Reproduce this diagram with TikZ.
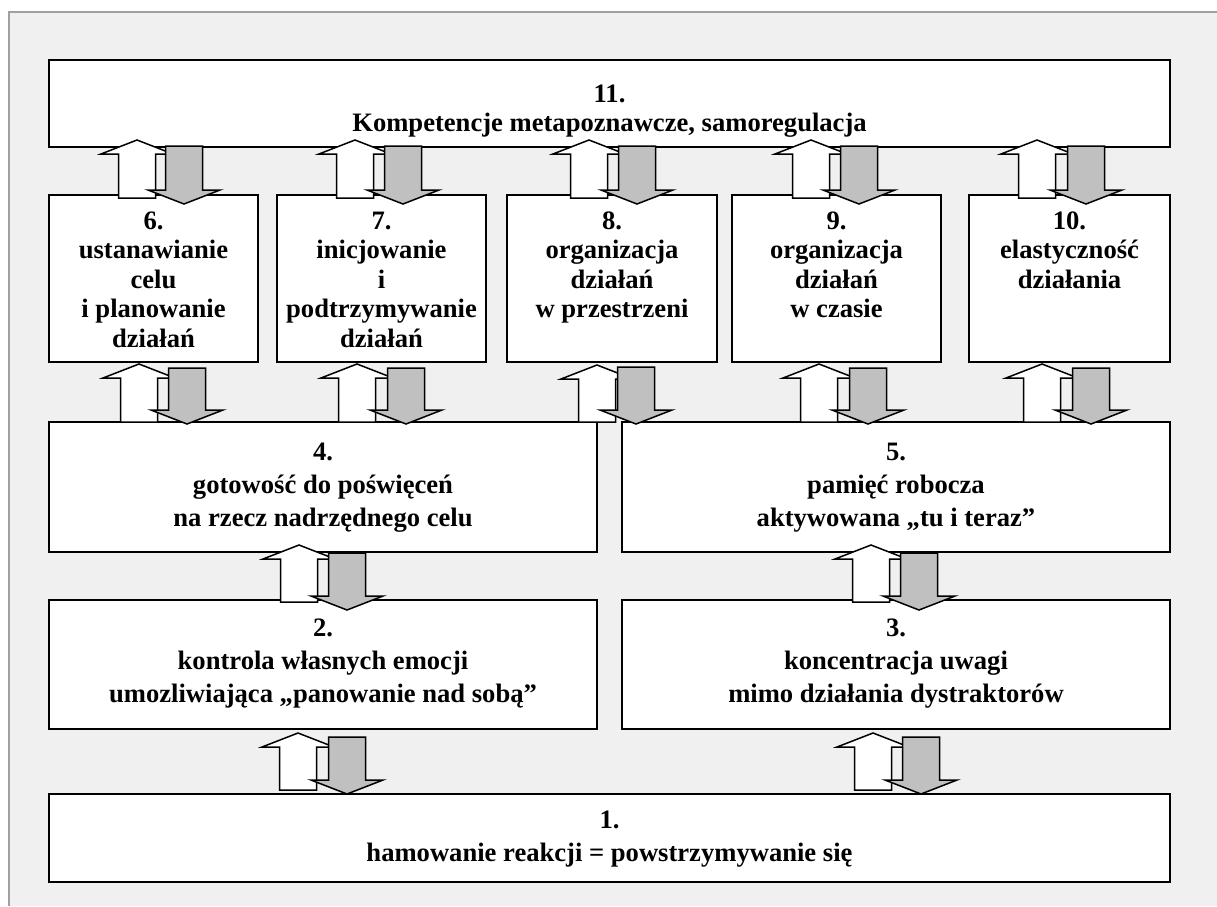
\documentclass[tikz,border=0pt]{standalone}
\usepackage{fontspec}
\setmainfont{Liberation Serif}
\definecolor{bgcol}{HTML}{F0F0F0}
\definecolor{framecol}{HTML}{A0A0A0}
\definecolor{arrgray}{HTML}{C0C0C0}
\newcommand{\bx}[5]{\node[box,minimum width={#4-#2},minimum height={#5-#3}] (#1) at ({(#2+#4)/2},{(#3+#5)/2}) {};}
\newcommand{\uparr}[3]{\draw[uparrowstyle] (#1,#2) -- (#1+36,#2+14) -- (#1+18.5,#2+14) -- (#1+18.5,#3) -- (#1-18.5,#3) -- (#1-18.5,#2+14) -- (#1-36,#2+14) -- cycle;}
\newcommand{\dnarr}[3]{\draw[dnarrowstyle] (#1-18.5,#2) -- (#1+18.5,#2) -- (#1+18.5,#3-14) -- (#1+36,#3-14) -- (#1,#3) -- (#1-36,#3-14) -- (#1-18.5,#3-14) -- cycle;}
\newcommand{\arrpair}[6]{\uparr{#1}{#3}{#4}\dnarr{#2}{#5}{#6}}

\begin{document}
\begin{tikzpicture}[x=1pt,y=-1pt,
  box/.style={draw=black,line width=1.8pt,fill=white,inner sep=0pt,outer sep=0pt},
  uparrowstyle/.style={draw=black,line width=1.5pt,fill=white,line join=miter},
  dnarrowstyle/.style={draw=black,line width=1.5pt,fill=arrgray,line join=miter},
  txtA/.style={anchor=north,inner sep=0pt,align=center,font=\fontsize{26.6}{29.5}\selectfont\bfseries},
  txtB/.style={anchor=north,inner sep=0pt,align=center,font=\fontsize{26.6}{33}\selectfont\bfseries}]
\useasboundingbox (0,0) rectangle (1217,906);
\fill[white] (0,0) rectangle (1217,906);
\fill[bgcol] (9,12) rectangle (1217,906);
\draw[framecol,line width=1.5pt] (9,906) -- (9,12) -- (1217,12);
% boxes
\bx{b11}{49}{60}{1170}{147}
\bx{b6}{49}{195}{258}{362}
\bx{b7}{277}{195}{486}{362}
\bx{b8}{507}{195}{717}{362}
\bx{b9}{732}{195}{941}{362}
\bx{b10}{969}{195}{1170}{362}
\bx{b4}{49}{422}{597}{552}
\bx{b5}{622}{422}{1170}{552}
\bx{b2}{49}{600}{597}{729}
\bx{b3}{622}{600}{1170}{729}
\bx{b1}{49}{794}{1170}{882}
% texts
\node[txtA] (t11) at (609.5,81.3) {\strut 11.\\\strut Kompetencje metapoznawcze, samoregulacja};
\node[txtA] (t6) at (153.5,208.3) {\strut 6.\\\strut ustanawianie\\\strut celu\\\strut i planowanie\\\strut działań};
\node[txtA] (t7) at (381.5,208.3) {\strut 7.\\\strut inicjowanie\\\strut i\\\strut podtrzymywanie\\\strut działań};
\node[txtA] (t8) at (612,208.3) {\strut 8.\\\strut organizacja\\\strut działań\\\strut w przestrzeni};
\node[txtA] (t9) at (836.5,208.3) {\strut 9.\\\strut organizacja\\\strut działań\\\strut w czasie};
\node[txtA] (t10) at (1069.5,208.3) {\strut 10.\\\strut elastyczność\\\strut działania};
\node[txtB] (t4) at (323,437.4) {\strut 4.\\\strut gotowość do poświęceń\\\strut na rzecz nadrzędnego celu};
\node[txtB] (t5) at (896,437.4) {\strut 5.\\\strut pamięć robocza\\\strut aktywowana „tu i teraz”};
\node[txtB] (t2) at (323,612.9) {\strut 2.\\\strut kontrola własnych emocji\\\strut umozliwiająca „panowanie nad sobą”};
\node[txtB] (t3) at (896,612.9) {\strut 3.\\\strut koncentracja uwagi\\\strut mimo działania dystraktorów};
\node[txtB] (t1) at (609.5,804.9) {\strut 1.\\\strut hamowanie reakcji = powstrzymywanie się};
% arrows row 11 <-> row 6-10
\arrpair{137}{184}{140}{198}{146}{204}
\arrpair{355}{403}{140}{198}{146}{204}
\arrpair{589}{637}{140}{198}{146}{204}
\arrpair{811}{859}{140}{198}{146}{204}
\arrpair{1037}{1086}{140}{198}{146}{204}
% arrows row 6-10 <-> row 4-5
\arrpair{139}{187}{364}{422}{368}{424}
\arrpair{357}{406}{364}{422}{368}{424}
\arrpair{597}{636}{365}{422}{367}{424}
\arrpair{819}{868}{364}{422}{368}{424}
\arrpair{1042}{1091}{364}{422}{368}{424}
% arrows row 4-5 <-> row 2-3
\arrpair{299}{347}{545}{602}{553}{610}
\arrpair{871}{919}{545}{602}{553}{610}
% arrows row 2-3 <-> row 1
\arrpair{298}{347}{733}{790}{737}{794}
\arrpair{873}{921}{733}{790}{737}{794}
\end{tikzpicture}
\end{document}
